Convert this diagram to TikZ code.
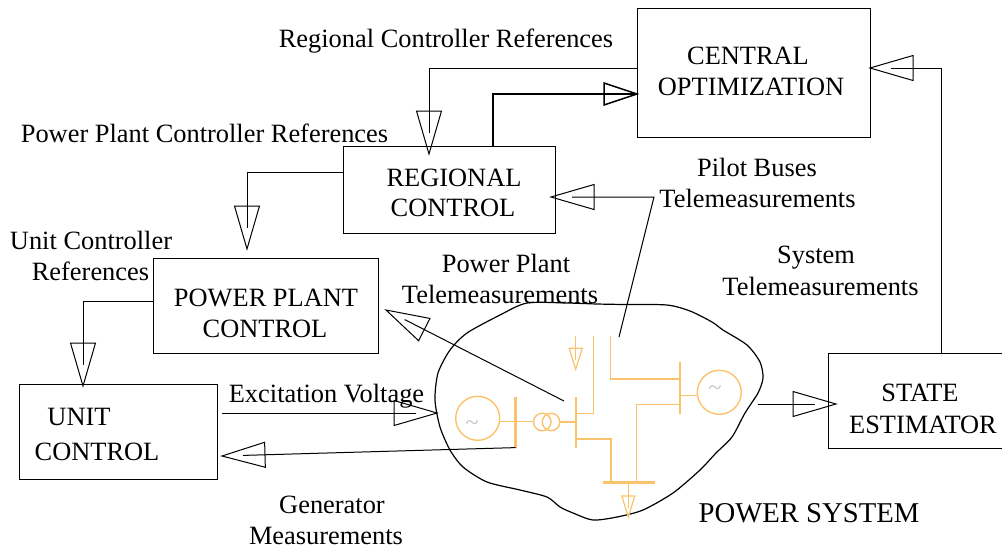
\documentclass[tikz,border=0pt]{standalone}
\usepackage{fontspec}
\setmainfont{Liberation Serif}
\usetikzlibrary{arrows.meta}
\makeatletter
\newcommand{\declOT}[4]{%
\pgfdeclarearrow{name=#1,
 setup code={\pgfarrowssettipend{0pt}\pgfarrowssetlineend{-#4}\pgfarrowssetvisualbackend{-#2}\pgfarrowssetbackend{-#2}},
 drawing code={\pgfsetdash{}{0pt}\pgfsetmiterjoin
  \pgfpathmoveto{\pgfqpoint{0pt}{0pt}}%
  \pgfpathlineto{\pgfqpoint{-#2}{#3}}%
  \pgfpathlineto{\pgfqpoint{-#2}{-#3}}%
  \pgfpathclose\pgfusepathqstroke}}}
\makeatother
\declOT{OTbig}{43pt}{12.5pt}{21pt}
\declOT{OTmid}{33pt}{11pt}{1pt}
\declOT{OTsmall}{21pt}{6.5pt}{9pt}
\definecolor{busorange}{HTML}{FBC26C}
\definecolor{tildegray}{HTML}{C4C4C4}
\tikzset{
 box/.style={draw=black,line width=1.1pt,inner sep=0pt,anchor=north west},
 lab/.style={inner sep=0pt,yshift=-6.5pt,font=\fontsize{26.4}{30}\selectfont,text=black,text height=0.66em,text depth=0.2em},
 bigLab/.style={inner sep=0pt,yshift=-7pt,font=\fontsize{28.7}{32}\selectfont,text=black,text height=0.66em,text depth=0.2em},
 wire/.style={draw=black,line width=1pt},
 feed/.style={wire,-{OTbig}},
 bus/.style={draw=busorange,line width=2.6pt},
 tie/.style={draw=busorange,line width=1.5pt},
 gen/.style={draw=busorange,line width=1.4pt,circle,minimum size=44pt,inner sep=0pt},
 xf/.style={draw=busorange,line width=1.4pt,circle,minimum size=17.5pt,inner sep=0pt},
 tilde/.style={inner sep=0pt,text=tildegray,font=\fontsize{24}{24}\selectfont},
}
\begin{document}
\begin{tikzpicture}[x=1pt,y=-1pt]
\useasboundingbox (0,0) rectangle (1002,550);
% blob
\draw[black,line width=1.2pt,line join=round] plot[smooth cycle,tension=0.45] coordinates {
(567,303)(597,304)(625,304.5)(667,305)(690,311)(712,322)(723,330)(747,345)(760,362)(763,378)
(758,393)(745,413)(732,437)(716,453)(700,470)(673,493)(643,510)(617,517)(593,520)(573,513)
(560,507)(547,497)(520,490)(487,482)(463,467)(450,450)(440,427)(435,400)(438,373)(450,350)
(467,333)(500,315)(527,303)};
% boxes
\node[box,minimum width=233pt,minimum height=129pt] (central) at (637,8) {};
\node[box,minimum width=212pt,minimum height=87pt] (regional) at (343,146) {};
\node[box,minimum width=225pt,minimum height=95pt] (plant) at (153,258) {};
\node[box,minimum width=198pt,minimum height=95pt] (unit) at (19,384) {};
\node[box,minimum width=176pt,minimum height=95pt] (state) at (828,353) {};
% box labels
\node[lab] (cenA) at (748,56) {CENTRAL};
\node[lab] (cenB) at (751,87) {OPTIMIZATION};
\node[lab] (regA) at (454,178) {REGIONAL};
\node[lab] (regB) at (453,208) {CONTROL};
\node[lab] (plaA) at (266,298) {POWER PLANT};
\node[lab] (plaB) at (265,329) {CONTROL};
\node[lab] (uniA) at (79,417) {UNIT};
\node[lab] (uniB) at (97,452) {CONTROL};
\node[lab] (staA) at (920,393) {STATE};
\node[lab] (staB) at (923,425) {ESTIMATOR};
% free labels
\node[lab] (t1) at (446,39) {Regional Controller References};
\node[lab] (t2) at (204.5,134) {Power Plant Controller References};
\node[lab] (t3) at (757,168) {Pilot Buses};
\node[lab] (t4) at (757.5,199) {Telemeasurements};
\node[lab] (t5) at (816,255) {System};
\node[lab] (t6) at (820.5,287) {Telemeasurements};
\node[lab] (t7) at (506,264) {Power Plant};
\node[lab] (t8) at (500,295) {Telemeasurements};
\node[lab] (t9) at (91,241) {Unit Controller};
\node[lab] (t10) at (90.5,272) {References};
\node[lab] (t11) at (326.5,394) {Excitation Voltage};
\node[lab] (t12) at (332,505) {Generator};
\node[lab] (t13) at (326,536) {Measurements};
\node[bigLab] (t14) at (809,513) {POWER SYSTEM};
% one-line diagram
\node[gen] (g1) at (477.7,418.3) {};
\node[tilde] (g1t) at (472,426) {\textasciitilde};
\node[gen] (g2) at (719.3,392.3) {};
\node[tilde] (g2t) at (715,391) {\textasciitilde};
\node[xf] (x1) at (542.3,422) {};
\node[xf] (x2) at (551,422) {};
\coordinate (b1t) at (515.7,397.3); \coordinate (b1b) at (515.7,447.6);
\coordinate (b2t) at (576,397.3); \coordinate (b2b) at (576,447.8);
\coordinate (b3l) at (603.3,482.3); \coordinate (b3r) at (655,482.3);
\coordinate (b4t) at (680,362); \coordinate (b4b) at (680,413.5);
\draw[bus] (b1t) -- (b1b);
\draw[bus] (b2t) -- (b2b);
\draw[bus] (b3l) -- (b3r);
\draw[bus] (b4t) -- (b4b);
\draw[tie] (g1.east |- 0,421.7) -- (x1.west |- 0,421.7);
\draw[tie] (x2.east) -- (b2t |- x2.east);
\draw[tie] (b2t |- 0,413.3) -| (593.3,336);
\draw[tie] (b2t |- 0,439) -| (b3l -| 611,0);
\draw[tie] (b3l -| 636.7,0) |- (b4t |- 0,404.3);
\draw[tie] (610.3,336) |- (b4t |- 0,379);
\draw[tie] (b4t |- 0,395.7) -- (g2.west |- 0,395.7);
\draw[tie,line width=1.2pt,-{OTsmall}] (575.7,336) -- (575.7,369.3);
\draw[tie,line width=1.2pt,-{OTsmall}] (b3l -| 628.3,0) -- (628.3,517);
% connectors
\coordinate (tipReg) at (429,154);
\coordinate (tipPlant) at (247,249);
\coordinate (tipUnit) at (83,386);
\coordinate (tipUnitIn) at (222,456);
\coordinate (tipPlantIn) at (386,310);
\coordinate (tipRegIn) at (551,197);
\coordinate (tipCen) at (870,68);
\coordinate (srcG) at (564,401);
\coordinate (srcP) at (619,337);
\coordinate (kneeP) at (654,197);
\coordinate (srcU) at (222,413);
\coordinate (tipBlob) at (437,413);
\coordinate (srcB) at (758,404);
\coordinate (tipState) at (836,404);
\draw[feed] (central.west |- 0,68) -| (tipReg);
\draw[wire,line width=1.5pt,-{OTmid}] (regional.north -| 493,0) |- (central.west |- 0,94);
\draw[feed] (regional.west |- 0,172) -| (tipPlant);
\draw[feed] (plant.west |- 0,301) -| (tipUnit);
\draw[feed] (srcU) -- (tipBlob);
\draw[feed] (b1b) -- (tipUnitIn);
\draw[feed] (srcG) -- (tipPlantIn);
\draw[feed] (srcP) -- (kneeP) -- (tipRegIn);
\draw[feed] (state.north -| 941,0) |- (tipCen);
\draw[feed] (srcB) -- (tipState);
\end{tikzpicture}
\end{document}
